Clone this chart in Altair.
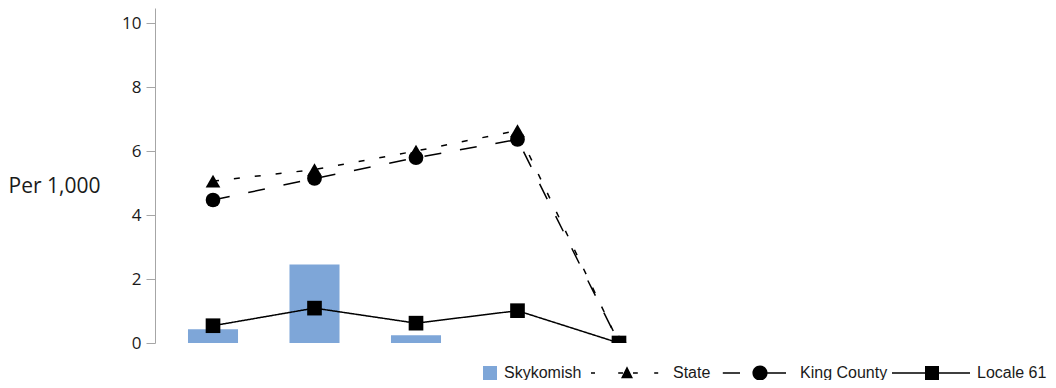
import altair as alt
import pandas as pd

categories = ["1", "2", "3", "4", "5"]
skykomish = [0.43, 2.45, 0.24, None, None]
state = [5.06, 5.42, 6.0, 6.64, 0.0]
king_county = [4.47, 5.14, 5.79, 6.36, 0.0]
locale_61 = [0.54, 1.09, 0.62, 1.01, 0.0]

line_series = ["State", "King County", "Locale 61"]
tick_values = [0, 2, 4, 6, 8, 10]

bars = pd.DataFrame({"cat": categories, "value": skykomish, "series": "Skykomish"}).dropna()
lines = pd.concat([
    pd.DataFrame({"cat": categories, "value": state, "series": "State"}),
    pd.DataFrame({"cat": categories, "value": king_county, "series": "King County"}),
    pd.DataFrame({"cat": categories, "value": locale_61, "series": "Locale 61"}),
])

x_enc = alt.X("cat:N", sort=categories,
              scale=alt.Scale(domain=categories, paddingInner=0.507, paddingOuter=0.325),
              axis=None)
y_scale = alt.Scale(domain=[0, 10.47], nice=False, zero=True)
y_axis = alt.Axis(values=tick_values, title="Per 1,000", titleAngle=0, titleAlign="left",
                  titleBaseline="middle", titleX=-147, titleY=178, titleFont="Open Sans",
                  titleFontSize=21, titleFontWeight="normal", titleColor="#1a1a1a",
                  labelFont="Open Sans", labelFontSize=17, labelColor="#1a1a1a",
                  labelPadding=5, tickSize=9, tickColor="#a6a6a6", domainColor="#a6a6a6",
                  grid=False)


def seg(a, b, h=0.02):
    return f"M{a},{-h}H{b}V{h}H{a}Z"


# legend symbol paths (unit box -1..1), all filled shapes
state_path = (seg(-0.9, -0.8) + seg(-0.22, -0.1) + seg(0.15, 0.27) + seg(0.68, 0.78)
              + "M0,-0.17L0.15,0.13L-0.15,0.13Z")
king_path = (seg(-0.78, -0.35) + seg(0.33, 0.8)
             + "M-0.04,0A0.19,0.19 0 1,1 0.34,0A0.19,0.19 0 1,1 -0.04,0Z")
locale_path = seg(-0.975, 0.975) + "M-0.15,-0.175H0.2V0.175H-0.15Z"

bar_layer = alt.Chart(bars).mark_bar().encode(
    x=x_enc,
    y=alt.Y("value:Q", scale=y_scale, axis=y_axis),
    color=alt.Color("series:N", scale=alt.Scale(domain=["Skykomish"], range=["#7ea6d8"]),
                    legend=alt.Legend(orient="none", legendX=327, legendY=357, title=None,
                                      symbolType="square", symbolSize=196, labelOffset=6,
                                      labelFont="Liberation Sans", labelFontSize=16,
                                      labelColor="#1a1a1a", padding=0)),
)

line_layer = alt.Chart(lines).mark_line(color="black", strokeWidth=1.5, clip=True).encode(
    x=x_enc,
    y=alt.Y("value:Q", scale=y_scale),
    detail="series:N",
    strokeDash=alt.StrokeDash("series:N",
                              scale=alt.Scale(domain=line_series, range=[[6, 15], [17, 19], [1, 0]]),
                              legend=None),
)

point_layer = alt.Chart(lines).mark_point(filled=True, color="black", opacity=1, size=215,
                                          clip=True).encode(
    x=x_enc,
    y=alt.Y("value:Q", scale=y_scale),
    shape=alt.Shape("series:N",
                    scale=alt.Scale(domain=line_series, range=["triangle-up", "circle", "square"]),
                    legend=None),
)

legend_layer = alt.Chart(lines).transform_filter("false").mark_point(
    filled=True, color="black", opacity=1
).encode(
    x=x_enc,
    y=alt.Y("value:Q", scale=y_scale),
    shape=alt.Shape("series:N",
                    scale=alt.Scale(domain=line_series, range=[state_path, king_path, locale_path]),
                    legend=alt.Legend(orient="none", legendX=432, legendY=325, title=None,
                                      direction="horizontal", symbolSize=6400, labelOffset=6,
                                      columnPadding=3, labelFont="Liberation Sans",
                                      labelFontSize=16, labelColor="#1a1a1a", padding=0,
                                      symbolFillColor="black", symbolStrokeWidth=0,
                                      symbolOpacity=1)),
)

chart = alt.layer(bar_layer, line_layer, point_layer, legend_layer).resolve_scale(
    shape="independent"
).properties(
    width=522, height=335, autosize="none",
    padding={"left": 147, "top": 0, "right": 371, "bottom": 37},
).configure_view(stroke=None)

chart.save("out.html", embed_options={"renderer": "svg", "actions": False})
